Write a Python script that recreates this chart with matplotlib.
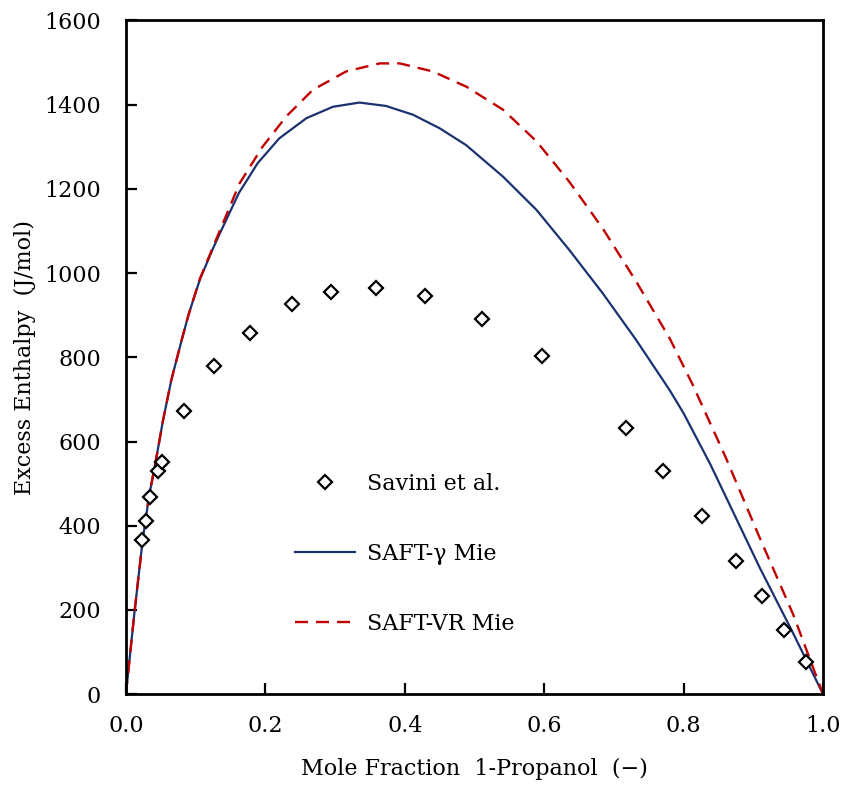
import matplotlib
matplotlib.use("Agg")
import matplotlib.pyplot as plt

# experimental points (Savini et al.)
savini_x = [0.023, 0.029, 0.034, 0.046, 0.052, 0.083, 0.126, 0.178, 0.238, 0.294,
            0.359, 0.429, 0.511, 0.597, 0.717, 0.771, 0.826, 0.875, 0.912, 0.944, 0.976]
savini_y = [365, 412, 469, 531, 551, 673, 779, 858, 927, 954,
            964, 945, 892, 802, 631, 531, 422, 317, 232, 152, 76]

# SAFT-gamma Mie curve
gamma_x = [0.0, 0.012, 0.024, 0.033, 0.043, 0.053, 0.065, 0.080, 0.090, 0.106,
           0.124, 0.135, 0.162, 0.189, 0.220, 0.259, 0.297, 0.335, 0.373, 0.412,
           0.450, 0.488, 0.541, 0.589, 0.636, 0.684, 0.732, 0.780, 0.800, 0.838,
           0.909, 0.957, 1.0]
gamma_y = [0, 190, 365, 468, 555, 648, 745, 841, 902, 984,
           1055, 1095, 1190, 1261, 1320, 1368, 1395, 1405, 1397, 1376,
           1344, 1304, 1229, 1150, 1055, 952, 841, 722, 667, 547,
           301, 145, 0]

# SAFT-VR Mie curve
vr_x = [0.0, 0.012, 0.024, 0.033, 0.043, 0.053, 0.065, 0.080, 0.090, 0.106,
        0.124, 0.135, 0.163, 0.196, 0.230, 0.268, 0.316, 0.364, 0.393, 0.440,
        0.488, 0.541, 0.589, 0.636, 0.684, 0.732, 0.780, 0.813, 0.861, 0.909,
        0.957, 1.0]
vr_y = [0, 190, 365, 468, 555, 648, 745, 841, 902, 986,
        1058, 1102, 1213, 1300, 1372, 1435, 1479, 1498, 1498, 1479,
        1443, 1388, 1313, 1217, 1106, 980, 845, 735, 560, 372,
        190, 0]

plt.rcParams['font.family'] = ['DejaVu Serif']
plt.rcParams['font.size'] = 16

fig = plt.figure(figsize=(8.45, 7.87), dpi=100)
ax = fig.add_axes([0.149, 0.118, 0.825, 0.856])

ax.plot(savini_x, savini_y, linestyle='none', marker='D', markersize=7.5,
        markerfacecolor='white', markeredgecolor='black', markeredgewidth=1.6,
        label='Savini et al.', zorder=3)
ax.plot(gamma_x, gamma_y, color='#1b3270', linewidth=1.6, label='SAFT-\u03b3 Mie')
ax.plot(vr_x, vr_y, color='#c00000', linewidth=1.7, dashes=(5.5, 3.4), label='SAFT-VR Mie')

ax.set_xlim(0, 1)
ax.set_ylim(0, 1600)
ax.set_xticks([0, 0.2, 0.4, 0.6, 0.8, 1.0])
ax.set_xticklabels(['0.0', '0.2', '0.4', '0.6', '0.8', '1.0'])
ax.set_yticks(range(0, 1601, 200))

for s in ax.spines.values():
    s.set_linewidth(2)
ax.tick_params(direction='in', length=8, width=1.6, top=False, right=False)
ax.tick_params(axis='x', pad=15)
ax.tick_params(axis='y', pad=18)

ax.set_xlabel('Mole Fraction  1-Propanol  (\u2212)', labelpad=15)
ax.set_ylabel('Excess Enthalpy  (J/mol)', labelpad=6)

ax.legend(loc='center', bbox_to_anchor=(0.40, 0.208), frameon=False,
          handlelength=2.7, labelspacing=2.15, handletextpad=0.5)

fig.savefig('out.png', dpi=100)
